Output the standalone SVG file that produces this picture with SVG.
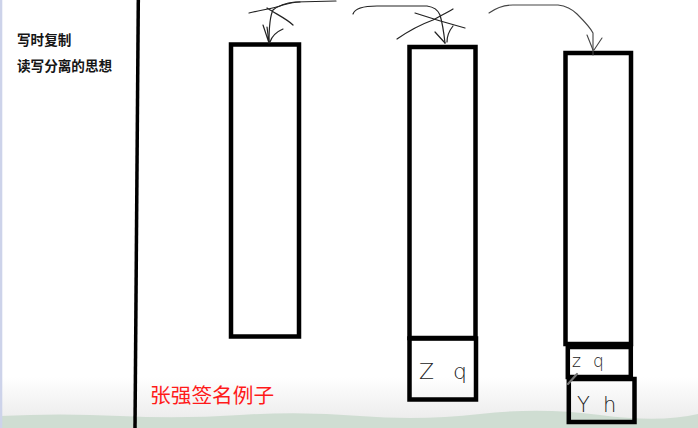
<svg xmlns="http://www.w3.org/2000/svg" width="698" height="428" viewBox="0 0 698 428">
<defs>
<linearGradient id="bg" x1="0" y1="0" x2="0" y2="1">
<stop offset="0" stop-color="#ffffff"/>
<stop offset="0.88" stop-color="#ffffff"/>
<stop offset="0.97" stop-color="#eeeeee"/>
<stop offset="1" stop-color="#e8e8e8"/>
</linearGradient>
<style>
.box{fill:none;stroke:#000;stroke-width:4.5}
.ink{fill:none;stroke:#222;stroke-width:1.2;stroke-linecap:round;stroke-linejoin:round}
.ink2{fill:none;stroke:#444;stroke-width:1.1;stroke-linecap:round;stroke-linejoin:round}
.note{font-family:"Noto Sans CJK SC","Noto Sans",sans-serif;font-weight:bold;font-size:13.6px;fill:#151515}
.red{font-family:"Noto Sans CJK SC","Noto Sans",sans-serif;font-weight:normal;font-size:20.7px;fill:#ff1a1a}
.hand{font-family:"DejaVu Sans","Liberation Sans",sans-serif;font-weight:200;fill:#222}
</style>
</defs>
<rect x="0" y="0" width="698" height="428" fill="url(#bg)"/>
<path d="M0 416 Q60 413 120 416 T240 415 T360 416 T480 414 T600 415 T698 414 V428 H0 Z" fill="#cfddd2"/>
<rect x="0" y="0" width="2.3" height="428" fill="#cdd3ea"/>
<line x1="138.3" y1="0" x2="135" y2="428" stroke="#000" stroke-width="3.5"/>

<g id="notes">
<text class="note" x="17" y="45">写时复制</text>
<text class="note" x="17" y="70.5">读写分离的思想</text>
</g>

<g id="box1">
<rect class="box" x="231" y="44.5" width="68" height="292"/>
</g>
<g id="box2">
<rect class="box" x="409.5" y="47" width="66" height="291"/>
</g>
<g id="box2-sign">
<rect class="box" x="409.5" y="338.5" width="66.5" height="61"/>
<text class="hand" x="419" y="379" font-size="22">Z<tspan x="453">q</tspan></text>
</g>
<g id="box3">
<rect class="box" x="565.5" y="53" width="65.5" height="291"/>
</g>
<g id="box3-sign1">
<rect class="box" x="567.8" y="347" width="63" height="30"/>
<text class="hand" x="572" y="367" font-size="17">z<tspan x="593">q</tspan></text>
</g>
<g id="box3-sign2">
<rect class="box" x="568.8" y="379" width="65.7" height="43"/>
<text class="hand" x="577" y="412" font-size="21">Y<tspan x="603">h</tspan></text>
</g>
<line x1="568" y1="384" x2="577" y2="374" stroke="#777" stroke-width="2.2" stroke-linecap="round"/>

<g id="connectors">
<path class="ink" d="M336 1 L295 2 C286 3 278 6 273 10 C270 16 269 28 269 43"/>
<path class="ink" d="M263 25 L269 43 M267 27 L269 42 M283 29 C276 32 272 36 270 42"/>
<path class="ink" d="M249 13 C260 10 272 9 283 5 C290 3 295 2 300 2 M267 8 C276 14 287 19 293 25"/>
<path class="ink" d="M353 14 C355 8 366 6 377 6 L427 6 C434 7 438 10 440 15 C443 25 444 34 445 43"/>
<path class="ink" d="M435 32 L445 43 M453 26 C449 31 447 36 447 42"/>
<path class="ink" d="M397 39 C410 30 422 24 433 20 C440 16 448 12 453 9 M415 13 C430 18 450 24 465 28"/>
<path class="ink2" d="M489 13 C496 8 505 5 513 5 L558 5 C566 6 572 9 577 14 C583 20 590 27 593 33 L593 55"/>
<path class="ink2" d="M587 35 L593 50 M602 38 L594 50"/>
</g>

<g id="caption">
<text class="red" x="150" y="403">张强签名例子</text>
</g>
</svg>
